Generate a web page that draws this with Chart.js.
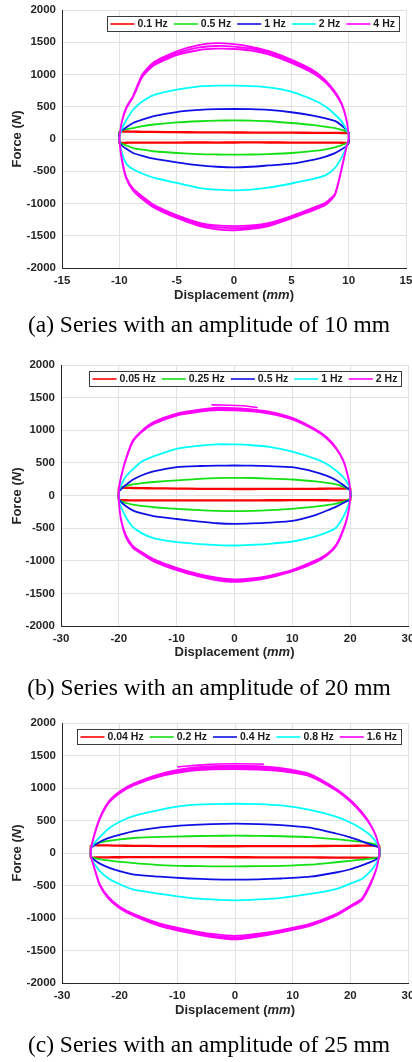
<!DOCTYPE html>
<html><head><meta charset="utf-8">
<script src="https://cdn.jsdelivr.net/npm/chart.js@4/dist/chart.umd.min.js"></script>
<style>
html,body{margin:0;padding:0;background:#fff;}
body{width:412px;height:1062px;position:relative;overflow:hidden;}
canvas{position:absolute;left:0;}
.xt,.yt{position:absolute;font:bold 13px "Liberation Sans",Arial,sans-serif;color:#262626;white-space:nowrap;text-align:center;}
.xt{width:200px;line-height:13px;}
.yt{width:120px;height:14px;line-height:14px;transform:rotate(-90deg);}
.cap{position:absolute;left:0;width:418px;text-align:center;font:23.5px "Liberation Serif","Times New Roman",serif;line-height:26px;color:#000;white-space:nowrap;}
</style></head><body>
<canvas id="cA"></canvas><canvas id="cB"></canvas><canvas id="cC"></canvas>
<div id="labels"></div>
<script>
// ---------- categories / ticks ----------
const freqA = ['0.1 Hz','0.5 Hz','1 Hz','2 Hz','4 Hz'];
const freqB = ['0.05 Hz','0.25 Hz','0.5 Hz','1 Hz','2 Hz'];
const freqC = ['0.04 Hz','0.2 Hz','0.4 Hz','0.8 Hz','1.6 Hz'];
const seriesColors = ['#ff0000','#14e014','#1010e6','#00ffff','#ff00ff'];
const xTicksA = [-15,-10,-5,0,5,10,15];
const xTicksBC = [-30,-20,-10,0,10,20,30];
const yTicks = [-2000,-1500,-1000,-500,0,500,1000,1500,2000];
const captions = ['(a) Series with an amplitude of 10 mm','(b) Series with an amplitude of 20 mm','(c) Series with an amplitude of 25 mm'];

// ---------- (a) amplitude 10 mm : displacement grid (mm) and forces (N) ----------
const dispA = [-10,-9.8,-9.4,-8.8,-8,-7,-5,-3,-1.5,0,1.5,3,5,7,8,8.8,9.4,9.8,10];
const redA_up   = [118,117,116,113,112,109,106,104,103,101,100,99,98,96,95,94,93,93,92];
const redA_lo   = [-62,-60,-58,-57,-56,-55,-55,-54,-55,-54,-53,-54,-55,-55,-56,-57,-58,-60,-62];
const greenA_up = [120,135,150,170,200,225,257,275,285,288,285,275,248,215,190,168,140,115,100];
const greenA_lo = [-40,-70,-100,-140,-165,-190,-217,-235,-240,-243,-240,-233,-217,-185,-160,-130,-95,-70,-50];
const blueA_up  = [80,130,180,248,300,355,418,450,462,465,462,450,415,360,320,280,210,140,100];
const blueA_lo  = [-20,-100,-150,-217,-260,-305,-362,-410,-430,-440,-430,-410,-383,-320,-272,-220,-160,-110,-50];
const cyanA_up  = [30,150,290,454,580,680,764,815,826,826,820,800,735,600,500,380,270,150,80];
const cyanA_lo  = [-30,-200,-380,-470,-535,-600,-682,-760,-785,-797,-785,-755,-690,-615,-560,-450,-280,-120,0];
const magA_up1  = [20,250,470,650,960,1140,1300,1380,1400,1395,1370,1310,1180,1010,875,710,530,300,60];
const magA_lo1  = [-20,-290,-590,-770,-890,-1020,-1180,-1300,-1340,-1350,-1340,-1305,-1195,-1060,-985,-850,-440,-130,0];
const magA_up2  = [20,255,480,660,980,1165,1330,1420,1442,1432,1400,1338,1205,1032,890,722,540,305,60];
const magA_lo2  = [-20,-300,-600,-785,-910,-1040,-1202,-1325,-1370,-1382,-1368,-1328,-1212,-1080,-1002,-860,-450,-132,0];
const magA_up3  = [20,260,490,670,1000,1190,1360,1460,1485,1470,1430,1365,1230,1055,905,735,550,310,60];
const magA_lo3  = [-20,-310,-610,-800,-930,-1060,-1225,-1350,-1400,-1415,-1395,-1350,-1230,-1100,-1020,-870,-460,-135,0];

// ---------- (b) amplitude 20 mm ----------
const dispB = [-20,-19.6,-18.8,-17.6,-16,-14,-10,-6,-3,0,3,6,10,14,16,17.6,18.8,19.6,20];
const redB_up   = [125,121,118,115,113,110,106,103,101,100,100,101,102,103,104,105,106,108,110];
const redB_lo   = [-70,-72,-73,-74,-75,-76,-76,-75,-74,-75,-74,-73,-72,-72,-73,-74,-75,-76,-78];
const greenB_up = [100,120,145,170,190,207,232,255,266,271,268,260,245,215,195,170,135,100,80];
const greenB_lo = [-60,-85,-115,-140,-160,-180,-204,-225,-236,-240,-236,-225,-204,-170,-148,-125,-95,-65,-50];
const blueB_up  = [60,100,160,240,310,370,434,452,458,460,458,450,434,360,300,235,160,105,70];
const blueB_lo  = [-50,-100,-160,-228,-275,-315,-360,-400,-425,-434,-428,-415,-390,-300,-230,-170,-115,-80,-60];
const cyanB_up  = [80,160,290,400,520,600,716,765,785,782,770,745,672,560,480,380,281,180,90];
const cyanB_lo  = [-60,-180,-330,-480,-580,-655,-716,-745,-760,-766,-755,-740,-705,-625,-565,-490,-330,-170,-40];
const magB_up1  = [100,285,540,820,975,1095,1225,1285,1310,1305,1290,1255,1165,995,870,712,530,295,100];
const magB_lo1  = [-80,-370,-605,-770,-870,-975,-1110,-1210,-1260,-1285,-1270,-1230,-1140,-995,-895,-750,-520,-290,-50];
const magB_up2  = [100,290,550,830,985,1110,1240,1300,1328,1322,1305,1270,1178,1005,880,720,536,300,100];
const magB_lo2  = [-80,-380,-620,-785,-885,-992,-1128,-1228,-1280,-1305,-1288,-1245,-1152,-1010,-905,-760,-530,-298,-50];
const magB_up3  = [100,295,560,840,995,1125,1255,1315,1345,1340,1320,1285,1190,1015,890,728,542,305,100];
const magB_lo3  = [-80,-390,-635,-800,-900,-1010,-1145,-1245,-1300,-1325,-1305,-1260,-1165,-1025,-915,-770,-540,-305,-50];
const magB_startX = [-4,-2,0,2,4];
const magB_startF = [1390,1388,1380,1372,1345];

// ---------- (c) amplitude 25 mm ----------
const dispC = [-25,-24.5,-23.5,-22,-20,-17.5,-13,-8,-4,0,4,8,13,17.5,20,22,23.5,24.5,25];
const redC_up   = [122,120,118,116,113,110,107,105,104,104,105,106,107,109,111,112,113,115,116];
const redC_lo   = [-72,-70,-68,-66,-65,-64,-63,-63,-64,-65,-66,-67,-68,-70,-71,-72,-74,-75,-76];
const greenC_up = [110,130,160,185,210,231,248,258,264,266,264,258,245,212,190,170,150,130,110];
const greenC_lo = [-60,-75,-95,-115,-135,-155,-185,-200,-205,-205,-203,-198,-180,-142,-120,-102,-88,-75,-60];
const blueC_up  = [80,110,170,230,280,335,395,430,445,451,445,430,390,300,240,180,130,100,80];
const blueC_lo  = [-60,-100,-160,-220,-280,-333,-365,-392,-405,-410,-405,-392,-365,-300,-250,-190,-140,-95,-60];
const cyanC_up  = [80,140,240,370,480,570,665,735,752,758,752,732,665,560,470,370,270,160,80];
const cyanC_lo  = [-60,-150,-270,-390,-480,-565,-630,-690,-715,-729,-715,-690,-630,-555,-470,-400,-280,-160,-60];
const magC_up1  = [50,240,510,760,920,1045,1180,1260,1285,1292,1282,1258,1180,965,790,605,425,245,60];
const magC_lo1  = [-50,-195,-470,-670,-825,-940,-1085,-1185,-1245,-1275,-1240,-1185,-1090,-940,-810,-700,-460,-245,-40];
const magC_up2  = [50,248,520,770,932,1058,1198,1282,1310,1318,1308,1282,1198,978,802,616,432,250,60];
const magC_lo2  = [-50,-200,-480,-682,-838,-955,-1105,-1208,-1270,-1302,-1262,-1202,-1105,-952,-822,-712,-472,-250,-40];
const magC_up3  = [50,255,530,780,945,1070,1215,1305,1335,1345,1335,1305,1215,990,815,628,440,255,60];
const magC_lo3  = [-50,-205,-490,-695,-850,-970,-1125,-1230,-1295,-1330,-1285,-1220,-1120,-965,-835,-725,-485,-255,-40];
const magC_startX = [-10,-5,0,5];
const magC_startF = [1325,1360,1372,1368];

// ---------- helpers ----------
function loopPts(xs, cycles) {
  const pts = [];
  cycles.forEach(([up, lo]) => {
    up.forEach((f, i) => pts.push({x: xs[i], y: f}));
    for (let i = xs.length - 1; i >= 0; i--) pts.push({x: xs[i], y: lo[i]});
  });
  pts.push({x: xs[0], y: cycles[0][0][0]});
  return pts;
}
function pairPts(xs, fs) { return xs.map((x, i) => ({x, y: fs[i]})); }

Chart.defaults.font.family = '"Liberation Sans", Arial, sans-serif';

const boxLegend = {
  id: 'boxLegend',
  afterDraw(chart, args, opts) {
    const {ctx, chartArea} = chart;
    const labels = opts.labels, cols = opts.colors;
    ctx.save();
    ctx.font = 'bold 10.5px "Liberation Sans", Arial, sans-serif';
    const sample = 24, gapT = 3, gapI = 6, padL = 3.5, padR = 4, h = 15;
    const tw = labels.map(l => ctx.measureText(l).width);
    const w = padL + padR + tw.reduce((a, b) => a + b, 0) + labels.length * (sample + gapT) + (labels.length - 1) * gapI;
    const right = chartArea.right - 7, top = chartArea.top + 6;
    const left = Math.round(right - w);
    ctx.fillStyle = '#fff'; ctx.fillRect(left, top, w, h);
    ctx.strokeStyle = '#3a3a3a'; ctx.lineWidth = 1;
    ctx.strokeRect(left + 0.5, top + 0.5, Math.round(w), h);
    let x = left + padL; const cy = top + h / 2 + 0.5;
    labels.forEach((l, i) => {
      ctx.strokeStyle = cols[i]; ctx.lineWidth = 1.6;
      ctx.beginPath(); ctx.moveTo(x, cy); ctx.lineTo(x + sample, cy); ctx.stroke();
      x += sample + gapT;
      ctx.fillStyle = '#1a1a1a'; ctx.textBaseline = 'middle'; ctx.textAlign = 'left';
      ctx.fillText(l, x, cy + 0.5);
      x += tw[i] + gapI;
    });
    ctx.restore();
  }
};

function makeChart(id, geo, xTicks, labels, loops, extra) {
  const cv = document.getElementById(id);
  const H = geo.bottom - geo.top + 40;
  cv.width = 412; cv.height = H;
  cv.style.top = (geo.top - 10) + 'px';
  cv.style.width = '412px'; cv.style.height = H + 'px';
  const datasets = loops.map((pts, i) => ({
    label: labels[i], data: pts, showLine: true, borderColor: seriesColors[i],
    backgroundColor: seriesColors[i], borderWidth: i === 0 ? 2.3 : 1.8, pointRadius: 0,
    tension: 0.2, order: 10 - i, fill: false
  }));
  (extra || []).forEach(e => datasets.push({
    label: '', data: e.pts, showLine: true, borderColor: seriesColors[e.c], borderWidth: 1.6,
    pointRadius: 0, tension: 0.2, order: 0, fill: false
  }));
  const tickFont = {size: 11.5, weight: 'bold'};
  new Chart(cv, {
    type: 'scatter',
    data: {datasets},
    options: {
      responsive: false, animation: false, devicePixelRatio: 1,
      layout: {padding: {top: 10, right: 412 - geo.right, left: 0, bottom: 0}},
      plugins: {legend: {display: false}, tooltip: {enabled: false}, boxLegend: {labels, colors: seriesColors}},
      scales: {
        x: {
          type: 'linear', min: xTicks[0], max: xTicks[xTicks.length - 1],
          afterBuildTicks: s => { s.ticks = xTicks.map(v => ({value: v})); },
          ticks: {font: tickFont, color: '#262626', padding: 6, maxRotation: 0, callback: v => String(v)},
          grid: {color: '#e2e2e2', drawTicks: false, lineWidth: 1},
          border: {color: '#262626', width: 1},
          afterFit: s => { s.height = 30; s.paddingLeft = 0; s.paddingRight = 0; }
        },
        y: {
          type: 'linear', min: yTicks[0], max: yTicks[yTicks.length - 1],
          afterBuildTicks: s => { s.ticks = yTicks.map(v => ({value: v})); },
          ticks: {font: tickFont, color: '#262626', padding: 6, callback: v => String(v)},
          grid: {color: '#e2e2e2', drawTicks: false, lineWidth: 1},
          border: {color: '#262626', width: 1},
          afterFit: s => { s.width = geo.left; s.paddingTop = 0; s.paddingBottom = 0; }
        }
      }
    },
    plugins: [boxLegend]
  });
}

const geoA = {top: 10, bottom: 268, left: 62, right: 406};
const geoB = {top: 365, bottom: 626, left: 61, right: 408};
const geoC = {top: 723, bottom: 983, left: 62, right: 408};

makeChart('cA', geoA, xTicksA, freqA, [
  loopPts(dispA, [[redA_up, redA_lo]]),
  loopPts(dispA, [[greenA_up, greenA_lo]]),
  loopPts(dispA, [[blueA_up, blueA_lo]]),
  loopPts(dispA, [[cyanA_up, cyanA_lo]]),
  loopPts(dispA, [[magA_up1, magA_lo1], [magA_up2, magA_lo2], [magA_up3, magA_lo3]])
]);
makeChart('cB', geoB, xTicksBC, freqB, [
  loopPts(dispB, [[redB_up, redB_lo]]),
  loopPts(dispB, [[greenB_up, greenB_lo]]),
  loopPts(dispB, [[blueB_up, blueB_lo]]),
  loopPts(dispB, [[cyanB_up, cyanB_lo]]),
  loopPts(dispB, [[magB_up1, magB_lo1], [magB_up2, magB_lo2], [magB_up3, magB_lo3]])
], [{c: 4, pts: pairPts(magB_startX, magB_startF)}]);
makeChart('cC', geoC, xTicksBC, freqC, [
  loopPts(dispC, [[redC_up, redC_lo]]),
  loopPts(dispC, [[greenC_up, greenC_lo]]),
  loopPts(dispC, [[blueC_up, blueC_lo]]),
  loopPts(dispC, [[cyanC_up, cyanC_lo]]),
  loopPts(dispC, [[magC_up1, magC_lo1], [magC_up2, magC_lo2], [magC_up3, magC_lo3]])
], [{c: 4, pts: pairPts(magC_startX, magC_startF)}]);

// ---------- axis titles and captions (HTML text) ----------
const lab = document.getElementById('labels');
[[geoA, 288.3, 310.8], [geoB, 645.3, 674], [geoC, 1003.3, 1030.8]].forEach(([g, xtTop, capTop], k) => {
  const xt = document.createElement('div');
  xt.className = 'xt';
  xt.style.left = ((g.left + g.right) / 2 - 100) + 'px';
  xt.style.top = xtTop + 'px';
  xt.innerHTML = 'Displacement (<i>mm</i>)';
  lab.appendChild(xt);
  const yt = document.createElement('div');
  yt.className = 'yt';
  yt.style.left = (16.5 - 60) + 'px';
  yt.style.top = ((g.top + g.bottom) / 2 - 7) + 'px';
  yt.innerHTML = 'Force (<i>N</i>)';
  lab.appendChild(yt);
  const cap = document.createElement('div');
  cap.className = 'cap';
  cap.style.top = capTop + 'px';
  cap.textContent = captions[k];
  lab.appendChild(cap);
});
</script>
</body></html>
